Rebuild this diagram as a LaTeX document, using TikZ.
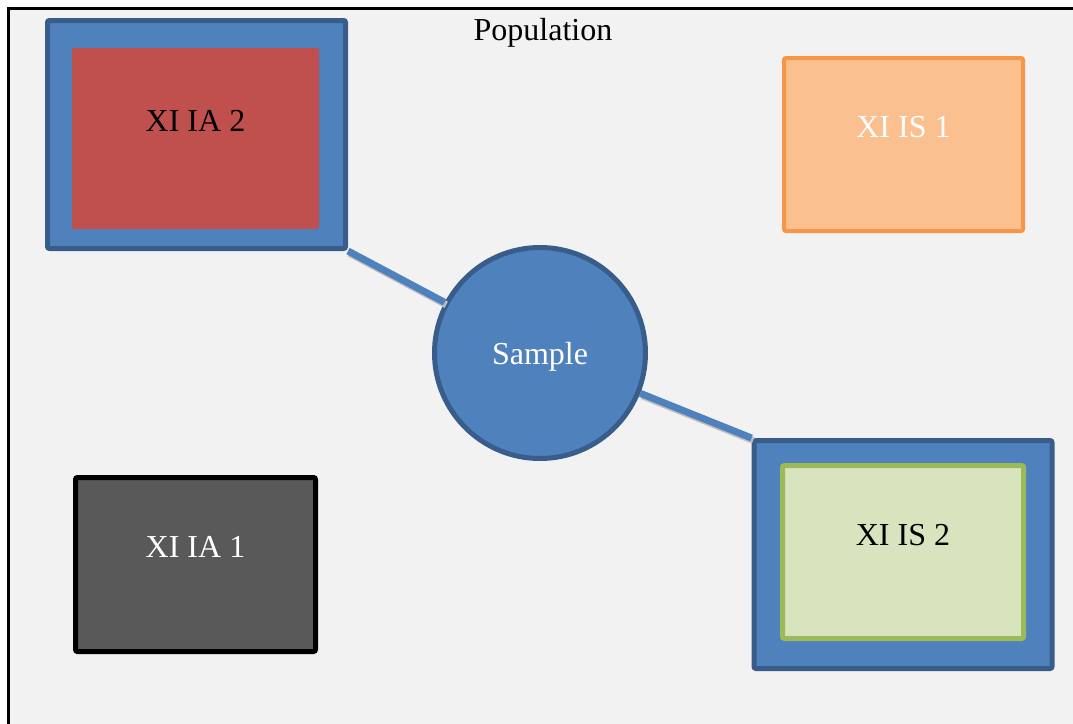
\documentclass[tikz,border=0pt]{standalone}
\usepackage{fontspec}
\setmainfont{Liberation Serif}
\usetikzlibrary{positioning}

\definecolor{boxblue}{HTML}{4F81BD}
\definecolor{boxblueline}{HTML}{385D8A}
\definecolor{boxred}{HTML}{C0504D}
\definecolor{boxorange}{HTML}{FAC090}
\definecolor{boxorangeline}{HTML}{F79646}
\definecolor{boxgreen}{HTML}{D7E4BD}
\definecolor{boxgreenline}{HTML}{9BBB59}
\definecolor{boxgray}{HTML}{595959}
\definecolor{pagebg}{HTML}{F2F2F2}

\begin{document}
\begin{tikzpicture}[
     x = 0.5pt,
     y = -0.5pt,
     every node/.style = {font=\fontsize{16}{19}\selectfont},
     outerbox/.style = {rectangle, rounded corners=1pt, draw=boxblueline, fill=boxblue,
                        line width=2.5pt, minimum width=149pt, minimum height=114pt},
     classbox/.style = {rectangle, rounded corners=1pt, text height=11pt, text depth=18pt,
                        inner sep=0pt},
     link/.style = {draw=boxblue, line width=3.5pt,
                    preaction={draw=black!25, line width=3.5pt,
                               transform canvas={xshift=0.8pt, yshift=-1.2pt}}}
    ]
    % page frame
    \useasboundingbox (0,0) rectangle (1073,724);
    \fill[pagebg] (8,8) rectangle (1073,724);
    \draw[line width=1.5pt] (8,724) -- (8,8) -- (1073,8);

    \node (population) at (543,33) {Population};

    \node[outerbox] (ia2out) at (196.5,134.5) {};
    \node[classbox, fill=boxred, minimum width=123.5pt, minimum height=90.5pt]
         (ia2) at (195.5,138.5) {XI IA 2};

    \node[classbox, fill=boxorange, draw=boxorangeline, line width=2pt, text=white,
          minimum width=119.5pt, minimum height=86.5pt] (is1) at (903.5,144.5) {XI IS 1};

    \node[outerbox] (is2out) at (903,554.5) {};
    \node[classbox, fill=boxgreen, draw=boxgreenline, line width=2.5pt,
          minimum width=120.5pt, minimum height=86.5pt] (is2) at (903,552) {XI IS 2};

    \node[classbox, fill=boxgray, draw=black, line width=2.5pt, text=white,
          minimum width=120pt, minimum height=87pt] (ia1) at (195.5,564.5) {XI IA 1};

    \node[circle, fill=boxblue, draw=boxblueline, line width=2.5pt, text=white,
          minimum size=105.5pt, inner sep=0pt, text height=15pt, text depth=3.5pt]
         (sample) at (540,353) {Sample};

    \path[link] (ia2out.south east) -- (sample);
    \path[link] (sample) -- (is2out.north west);
\end{tikzpicture}
\end{document}
